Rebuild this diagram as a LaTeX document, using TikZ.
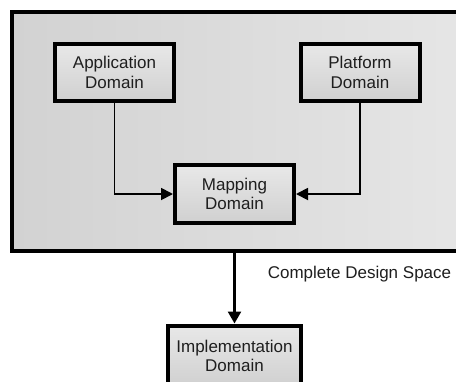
\documentclass[tikz,border=0pt]{standalone}
\usepackage{fontspec}
\setmainfont{Liberation Sans}
\usetikzlibrary{arrows.meta}

\definecolor{inkgray}{HTML}{1E1E1E}
\definecolor{spacelight}{HTML}{E6E6E6}
\definecolor{spacedark}{HTML}{D2D2D2}
\definecolor{boxlight}{HTML}{E8E8E8}
\definecolor{boxdark}{HTML}{D0D0D0}

\tikzset{
  domainbox/.style={draw=black, line width=4pt, rectangle,
    top color=boxlight, bottom color=boxdark,
    minimum width=119pt, minimum height=57pt, inner sep=0pt,
    align=center, text=inkgray,
    font=\fontsize{17}{19.5}\selectfont},
  spacebox/.style={draw=black, line width=4pt, rectangle,
    left color=spacedark, right color=spacelight, inner sep=0pt},
  thinarrow/.style={draw=black, line width=1.8pt,
    -{Triangle[length=12pt, width=12pt]}},
  thickarrow/.style={draw=black, line width=2.5pt,
    -{Triangle[length=12pt, width=13pt]}},
  caption/.style={text=inkgray, font=\fontsize{17}{20}\selectfont}
}

\begin{document}
\begin{tikzpicture}[x=1pt, y=-1pt]
  \useasboundingbox (0,0) rectangle (456,381);

  % the enclosing design space (runs past the right edge)
  \node[spacebox, minimum width=458pt, minimum height=239pt] (space) at (241,131.5) {};

  % domains
  \node[domainbox] (app)  at (114.5,72.5) {Application\\Domain};
  \node[domainbox] (plat) at (360,72.5)   {Platform\\Domain};
  \node[domainbox, minimum height=58pt] (map) at (234.5,194) {Mapping\\Domain};
  % runs past the bottom edge
  \node[domainbox, minimum width=133pt, minimum height=61pt] (impl) at (234.5,356) {Implementation\\Domain};

  % label under the design space
  \node[caption] (lbl) at (359.5,274) {Complete Design Space};

  % connectors
  \draw[thinarrow] (app.south) |- (map.west);
  \draw[thinarrow] (plat.south) |- (map.east);
  \draw[thickarrow] (impl.north |- space.south) -- (impl.north);
\end{tikzpicture}
\end{document}
